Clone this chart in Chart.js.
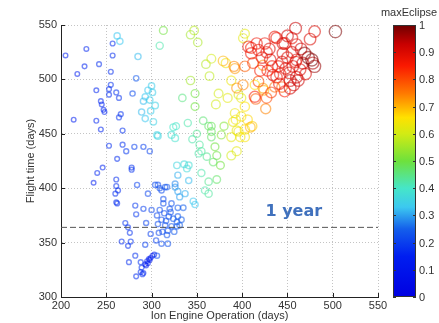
<!DOCTYPE html>
<html><head><meta charset="utf-8">
<script src="https://cdn.jsdelivr.net/npm/chart.js@4.4.0/dist/chart.umd.min.js"></script>
<style>html,body{margin:0;padding:0;background:#fff}#wrap{width:439px;height:323px;position:relative}</style>
</head><body><div id="wrap"><canvas id="c" width="439" height="323"></canvas></div>
<script>
// ---- data ----
const engineDays = [
 205,228,257,257,226,242,218,255,253,255,261,264,253,239,244,245,247,248,214,239,244,266,264,268,253,268,272,281,291,298,283,279,
 246,240,236,262,278,278,261,261,263,260,261,262,284,296,304,309,317,313,282,291,283,300,271,274,276,294,267,277,274,299,293,305,
 308,282,275,288,289,288,290,283,291,293,295,297,299,301,303,296,294,298,
 307,315,311,313,322,320,329,335,309,306,314,321,329,319,333,328,311,307,315,322,328,318,312,317,311,318,306,325,331,324,316,
 326,329,337,331,346,348,341,326,329,
 262,265,285,296,293,291,299,293,298,301,306,304,289,302,300,
 309,313,334,324,327,322,326,307,348,348,328,336,341,339,355,363,372,359,363,352,361,372,368,376,353,355,366,366,366,370,363,380,
 377,345,350,340,357,343,360,343,347,351,364,
 366,388,394,390,399,394,398,388,396,403,403,392,393,371,374,384,396,399,403,388,382,401,403,414,411,409,406,
 379,392,391,401,394,403,423,424,436,426,415,423,427,444,418,432,412,
 407,410,410,416,425,418,427,431,436,438,445,447,455,460,445,444,440,433,456,464,452,434,438,460,453,462,457,453,447,460,459,467,
 475,480,459,414,420,450,448,442,455,478,430,422,465,470,441,428,450,
 469,477,473,503,480
];
const flightDays = [
 522,528,533,522,512,514,505,507,491,495,488,483,486,490,480,477,472,470,463,462,454,468,465,453,439,440,434,438,438,434,501,487,
 419,414,405,427,419,417,408,402,398,395,387,386,403,395,403,400,401,390,384,381,376,380,368,364,359,368,351,351,347,358,348,352,
 359,338,332,332,327,323,321,319,322,330,333,335,336,338,339,331,329,334,
 403,401,398,386,386,381,382,382,380,375,377,378,374,374,371,369,371,367,366,365,365,361,360,357,349,349,338,360,366,372,370,
 401,397,395,392,388,385,407,404,412,
 540,535,521,490,484,480,471,464,481,488,449,476,470,461,494,
 531,545,483,456,457,449,446,448,487,475,421,422,421,418,414,406,408,398,395,432,429,430,424,421,440,434,457,452,447,438,457,457,
 449,445,450,460,462,499,514,541,545,534,503,
 519,430,434,461,466,453,447,447,452,454,447,469,463,477,487,483,486,483,475,499,515,538,542,495,457,456,463,
 517,510,512,495,492,512,492,490,493,473,482,513,483,493,498,488,515,
 530,524,529,533,533,527,525,518,539,538,533,533,538,532,524,516,512,512,512,509,506,504,502,502,499,499,495,492,489,518,516,515,
 537,544,547,484,508,520,510,505,525,515,528,520,528,505,496,508,540,
 524,518,520,544,512
];
const maxEclipse = [
 .15,.16,.17,.17,.16,.17,.15,.17,.17,.18,.18,.18,.17,.16,.16,.16,.16,.16,.15,.16,.16,.18,.18,.18,.17,.18,.19,.2,.2,.21,.24,.22,
 .16,.16,.15,.17,.18,.18,.17,.17,.17,.17,.17,.17,.2,.21,.22,.22,.24,.22,.19,.2,.19,.21,.18,.18,.18,.2,.17,.18,.17,.2,.2,.2,
 .21,.18,.17,.18,.18,.17,.17,.17,.16,.15,.14,.14,.14,.14,.15,.14,.14,.14,
 .22,.23,.22,.22,.23,.23,.24,.25,.22,.21,.22,.23,.24,.23,.25,.24,.22,.22,.22,.23,.24,.23,.22,.23,.22,.23,.21,.24,.25,.24,.23,
 .29,.3,.31,.3,.33,.33,.32,.28,.31,
 .33,.33,.32,.33,.33,.32,.34,.33,.34,.34,.35,.35,.32,.35,.34,
 .42,.5,.45,.4,.4,.38,.39,.36,.5,.5,.36,.37,.38,.37,.42,.44,.47,.42,.43,.42,.44,.5,.47,.5,.43,.43,.48,.48,.47,.5,.47,.52,
 .52,.42,.44,.42,.46,.55,.57,.55,.57,.56,.58,
 .6,.6,.62,.63,.65,.63,.64,.62,.64,.66,.65,.63,.64,.6,.6,.62,.6,.63,.66,.63,.64,.62,.62,.66,.68,.7,.67,
 .7,.72,.74,.74,.73,.78,.72,.7,.76,.74,.78,.73,.8,.78,.8,.82,.82,
 .88,.87,.86,.87,.88,.88,.87,.9,.88,.87,.9,.9,.88,.9,.9,.9,.88,.87,.9,.9,.9,.88,.88,.92,.93,.92,.92,.92,.85,.9,.88,.93,
 .9,.9,.93,.85,.86,.9,.9,.88,.9,.95,.9,.88,.92,.9,.88,.85,.92,
 .98,.99,.98,.99,.97
];
const xTicks = [200,250,300,350,400,450,500,550];
const yTicks = [300,350,400,450,500,550];
const cbTicks = [0,0.1,0.2,0.3,0.4,0.5,0.6,0.7,0.8,0.9,1];
const yearLineX = [200,550];
const yearLineY = [364,364];
const yearLabel = '1 year';
const yearLabelPos = [457,378];

// ---- colour map (jet-like, as in the reference colour bar) ----
const CMAP = [
 [0.00,[0,0,225]],[0.15,[0,30,240]],[0.25,[20,95,235]],[0.33,[60,200,240]],[0.40,[70,230,200]],
 [0.50,[110,225,60]],[0.60,[210,235,20]],[0.66,[255,225,0]],[0.75,[255,120,0]],[0.85,[250,25,0]],
 [0.93,[200,0,0]],[1.00,[110,0,0]]
];
function cmap(v){
  v = Math.max(0, Math.min(1, v));
  for (let i=1;i<CMAP.length;i++){
    if (v <= CMAP[i][0]){
      const [a, ca] = CMAP[i-1], [b, cb] = CMAP[i];
      const t = (v-a)/(b-a);
      return ca.map((c,k)=>Math.round(c + (cb[k]-c)*t));
    }
  }
  return CMAP[CMAP.length-1][1];
}
function cmapRGBA(v, a){ const c = cmap(v); return `rgba(${c[0]},${c[1]},${c[2]},${a})`; }

const points = engineDays.map((x,i)=>({x:x, y:flightDays[i], c:maxEclipse[i]}));
const FONT = 'Liberation Sans, Arial, Helvetica, sans-serif';

const deco = {
  id:'deco',
  beforeDraw(chart){
    const ctx = chart.ctx; ctx.save(); ctx.fillStyle='#fff'; ctx.fillRect(0,0,chart.width,chart.height); ctx.restore();
  },
  afterDraw(chart){
    const ctx = chart.ctx, xs = chart.scales.x, ys = chart.scales.y, ca = chart.chartArea;
    ctx.save();
    ctx.strokeStyle = '#222'; ctx.lineWidth = 1;
    xTicks.forEach(v=>{ const px = Math.round(xs.getPixelForValue(v))+0.5; ctx.beginPath(); ctx.moveTo(px, ca.bottom); ctx.lineTo(px, ca.bottom-4); ctx.stroke(); });
    yTicks.forEach(v=>{ const py = Math.round(ys.getPixelForValue(v))+0.5; ctx.beginPath(); ctx.moveTo(ca.left, py); ctx.lineTo(ca.left+4, py); ctx.stroke(); });
    ctx.fillStyle = '#4071bd';
    ctx.font = 'bold 16px "DejaVu Sans", sans-serif';
    ctx.textAlign = 'center'; ctx.textBaseline = 'middle';
    ctx.fillText(yearLabel, xs.getPixelForValue(yearLabelPos[0]), ys.getPixelForValue(yearLabelPos[1]));
    const cb = chart.scales.cb;
    const top = cb.getPixelForValue(1), bot = cb.getPixelForValue(0);
    const x0 = 393, x1 = 416;
    const grad = ctx.createLinearGradient(0, bot, 0, top);
    CMAP.forEach(([t,c])=>grad.addColorStop(t, `rgb(${c[0]},${c[1]},${c[2]})`));
    ctx.fillStyle = grad; ctx.fillRect(x0, top, x1-x0, bot-top);
    ctx.strokeStyle = '#333'; ctx.lineWidth = 1;
    ctx.strokeRect(x0+0.5, top+0.5, x1-x0-1, bot-top-1);
    ctx.fillStyle = '#333'; ctx.font = '11px ' + FONT; ctx.textAlign='left'; ctx.textBaseline='middle';
    cbTicks.forEach(t=>{
      const py = Math.round(cb.getPixelForValue(t))+0.5;
      ctx.beginPath(); ctx.moveTo(x0, py); ctx.lineTo(x0+3, py); ctx.moveTo(x1, py); ctx.lineTo(x1-3, py); ctx.stroke();
      ctx.fillText(t===0?'0':t===1?'1':t.toFixed(1), x1+3, py);
    });
    ctx.textAlign='center'; ctx.textBaseline='middle';
    ctx.fillText('maxEclipse', 409, 13);
    ctx.restore();
  }
};

new Chart(document.getElementById('c'), {
  data:{
    datasets:[
      { type:'scatter', data:points, showLine:false,
        pointRadius: ctx => 1.6 + 4.6*(ctx.raw ? ctx.raw.c : 0),
        pointHoverRadius: ctx => 1.6 + 4.6*(ctx.raw ? ctx.raw.c : 0),
        pointBackgroundColor:'rgba(0,0,0,0)',
        pointBorderColor: ctx => cmapRGBA(ctx.raw ? ctx.raw.c : 0, 0.55),
        pointBorderWidth:1.4, clip:false, order:2 },
      { type:'line', data: yearLineX.map((x,i)=>({x:x, y:yearLineY[i]})),
        borderColor:'#555', borderWidth:1, borderDash:[6,3], pointRadius:0, fill:false, order:1 }
    ]
  },
  options:{
    responsive:false, animation:false, devicePixelRatio:1,
    layout:{ padding:{top:25, right:61, left:0, bottom:0} },
    plugins:{ legend:{display:false}, tooltip:{enabled:false} },
    scales:{
      x:{ type:'linear', min:200, max:550,
        afterBuildTicks: s => { s.ticks = xTicks.map(v=>({value:v})); },
        afterFit: s => { s.height = 26; },
        grid:{ color:'#c4c4c4', lineWidth:1, drawTicks:false },
        border:{ display:true, color:'#222', width:1, dash:[1,2] },
        ticks:{ padding:2, color:'#333', font:{family:FONT, size:11}, maxRotation:0 },
        title:{ display:true, text:'Ion Engine Operation (days)', color:'#333', font:{family:FONT, size:11}, padding:{top:0,bottom:0} } },
      y:{ type:'linear', min:300, max:550,
        afterBuildTicks: s => { s.ticks = yTicks.map(v=>({value:v})); },
        afterFit: s => { s.width = 61; },
        grid:{ color:'#c4c4c4', lineWidth:1, drawTicks:false },
        border:{ display:true, color:'#222', width:1, dash:[1,2] },
        ticks:{ padding:4, color:'#333', font:{family:FONT, size:11} },
        title:{ display:true, text:'Flight time (days)', color:'#333', font:{family:FONT, size:11}, padding:{top:24,bottom:0} } },
      cb:{ type:'linear', position:'right', min:0, max:1, display:false }
    }
  },
  plugins:[deco]
});
</script></body></html>
